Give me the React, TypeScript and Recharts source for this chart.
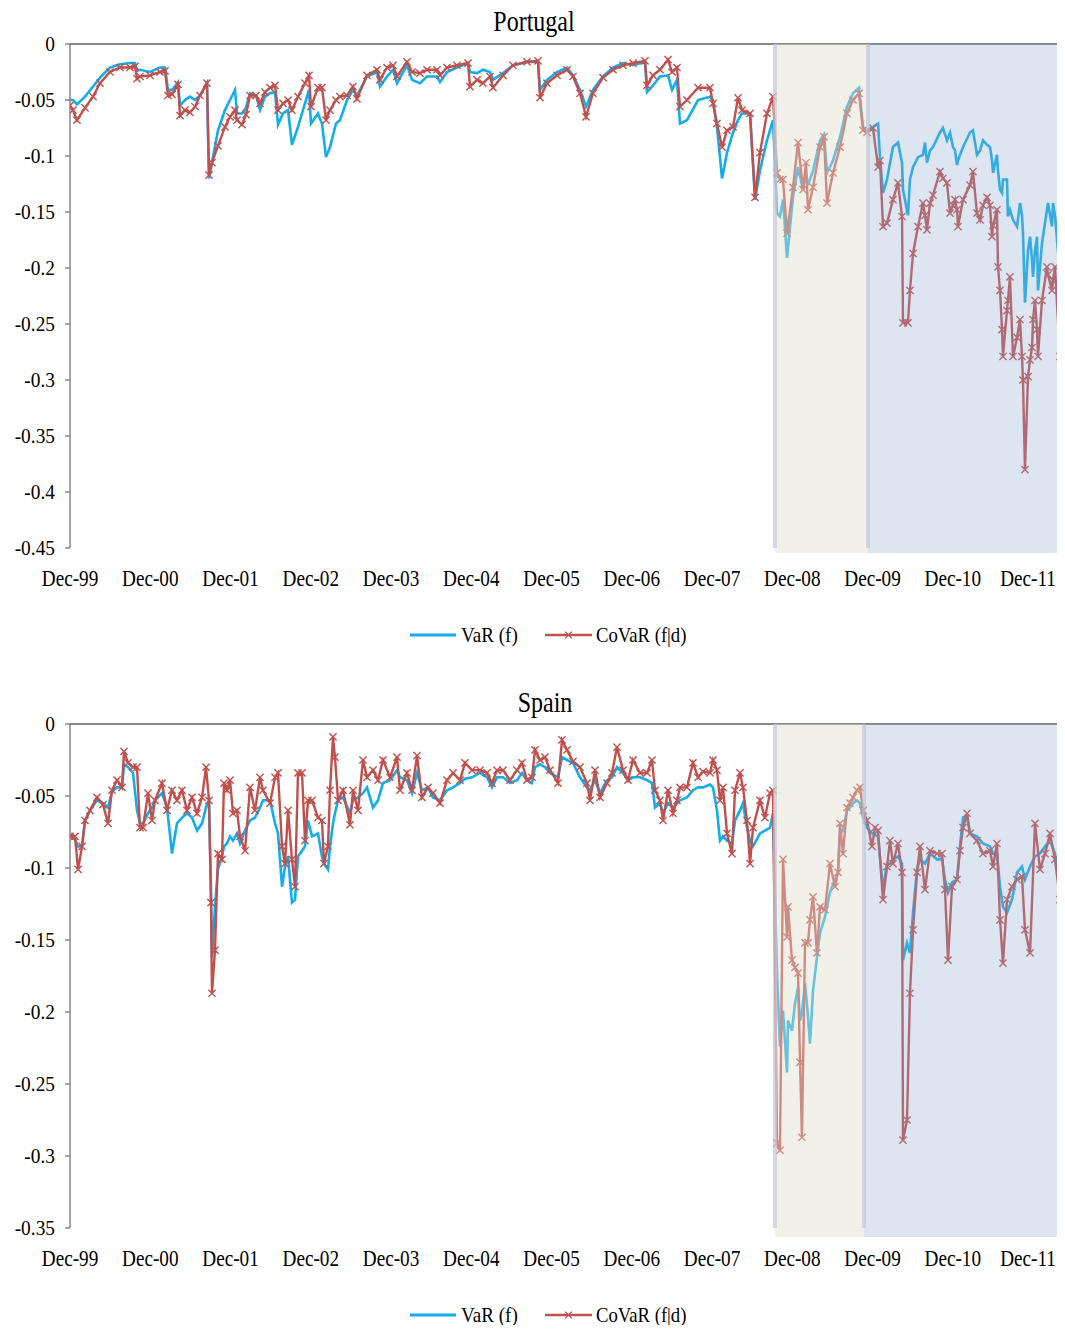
import React from 'react';
import { LineChart, Line, XAxis, YAxis, ReferenceArea, ReferenceLine } from 'recharts';

// Time axis: years elapsed since December 1999 (weekly observations, thinned)
const yearTicks = [0, 1, 2, 3, 4, 5, 6, 7, 8, 9, 10, 11, 12];
const yearLabels = ['Dec-99', 'Dec-00', 'Dec-01', 'Dec-02', 'Dec-03', 'Dec-04', 'Dec-05', 'Dec-06', 'Dec-07', 'Dec-08', 'Dec-09', 'Dec-10', 'Dec-11'];
const X_END = 12.81;

// ---------- Portugal ----------
const ptTime = [
  0, 0.037, 0.087, 0.187, 0.287, 0.374, 0.498, 0.623, 0.748, 0.81,
  0.835, 0.872, 0.997, 1.121, 1.184, 1.221, 1.271, 1.346, 1.371, 1.433,
  1.495, 1.558, 1.62, 1.707, 1.732, 1.769, 1.844, 1.931, 1.994, 2.056,
  2.081, 2.143, 2.193, 2.243, 2.318, 2.368, 2.43, 2.492, 2.555, 2.592,
  2.654, 2.717, 2.766, 2.841, 2.928, 2.978, 3.003, 3.09, 3.14, 3.19,
  3.24, 3.315, 3.364, 3.452, 3.526, 3.576, 3.701, 3.826, 3.863, 3.95,
  4.025, 4.075, 4.199, 4.262, 4.361, 4.449, 4.573, 4.611, 4.698, 4.822,
  4.96, 4.984, 5.072, 5.146, 5.234, 5.271, 5.396, 5.52, 5.695, 5.832,
  5.857, 5.944, 6.069, 6.193, 6.268, 6.355, 6.43, 6.517, 6.642, 6.766,
  6.891, 7.016, 7.165, 7.19, 7.265, 7.352, 7.452, 7.502, 7.564, 7.601,
  7.688, 7.826, 7.975, 8.012, 8.062, 8.125, 8.187, 8.262, 8.324, 8.374,
  8.474, 8.536, 8.598, 8.685, 8.76, 8.81, 8.847, 8.885, 8.935, 9.009,
  9.072, 9.134, 9.171, 9.196, 9.259, 9.346, 9.396, 9.433, 9.508, 9.595,
  9.682, 9.757, 9.832, 9.882, 9.931, 10.006, 10.069, 10.093, 10.131, 10.181,
  10.255, 10.318, 10.368, 10.38, 10.442, 10.467, 10.505, 10.567, 10.629, 10.654,
  10.679, 10.717, 10.754, 10.841, 10.878, 10.928, 10.966, 11.003, 11.028, 11.053,
  11.065, 11.128, 11.215, 11.252, 11.302, 11.34, 11.377, 11.427, 11.464, 11.489,
  11.502, 11.551, 11.564, 11.589, 11.614, 11.626, 11.676, 11.688, 11.713, 11.751,
  11.801, 11.838, 11.863, 11.875, 11.9, 11.938, 11.963, 11.988, 12.0, 12.025,
  12.05, 12.062, 12.112, 12.174, 12.187, 12.237, 12.249, 12.274, 12.336, 12.374,
  12.399,
];
const ptVaR = [
  -0.05, -0.05, -0.054, -0.047, -0.038, -0.03, -0.021, -0.018, -0.017, -0.017,
  -0.024, -0.023, -0.025, -0.021, -0.021, -0.041, -0.041, -0.034, -0.055, -0.05,
  -0.047, -0.05, -0.046, -0.035, -0.12, -0.106, -0.077, -0.059, -0.05, -0.041,
  -0.062, -0.062, -0.057, -0.044, -0.046, -0.059, -0.047, -0.044, -0.043, -0.072,
  -0.062, -0.059, -0.09, -0.074, -0.053, -0.041, -0.071, -0.062, -0.071, -0.101,
  -0.092, -0.071, -0.068, -0.05, -0.041, -0.046, -0.029, -0.025, -0.038, -0.029,
  -0.023, -0.035, -0.019, -0.032, -0.035, -0.029, -0.029, -0.034, -0.025, -0.021,
  -0.017, -0.025, -0.026, -0.023, -0.025, -0.032, -0.026, -0.019, -0.016, -0.016,
  -0.041, -0.032, -0.025, -0.021, -0.028, -0.041, -0.056, -0.041, -0.029, -0.021,
  -0.017, -0.019, -0.016, -0.043, -0.037, -0.029, -0.028, -0.041, -0.032, -0.071,
  -0.068, -0.05, -0.047, -0.05, -0.074, -0.12, -0.097, -0.079, -0.068, -0.062,
  -0.062, -0.139, -0.113, -0.086, -0.068, -0.151, -0.154, -0.139, -0.191, -0.137,
  -0.11, -0.13, -0.115, -0.126, -0.113, -0.086, -0.081, -0.115, -0.104, -0.083,
  -0.056, -0.044, -0.039, -0.074, -0.077, -0.074, -0.071, -0.101, -0.133, -0.121,
  -0.092, -0.088, -0.106, -0.13, -0.153, -0.121, -0.11, -0.101, -0.099, -0.088,
  -0.106, -0.095, -0.092, -0.079, -0.075, -0.086, -0.079, -0.092, -0.095, -0.108,
  -0.104, -0.092, -0.079, -0.077, -0.099, -0.095, -0.086, -0.09, -0.092, -0.104,
  -0.115, -0.099, -0.113, -0.13, -0.133, -0.121, -0.121, -0.154, -0.148, -0.157,
  -0.163, -0.142, -0.153, -0.169, -0.231, -0.184, -0.172, -0.193, -0.208, -0.184,
  -0.172, -0.22, -0.178, -0.148, -0.142, -0.163, -0.142, -0.153, -0.206, -0.184,
  -0.163,
];
const ptCoVaR = [
  -0.055, -0.059, -0.068, -0.057, -0.047, -0.035, -0.025, -0.021, -0.021, -0.02,
  -0.031, -0.029, -0.028, -0.025, -0.024, -0.046, -0.045, -0.036, -0.064, -0.059,
  -0.061, -0.056, -0.046, -0.035, -0.117, -0.106, -0.091, -0.074, -0.065, -0.059,
  -0.068, -0.072, -0.063, -0.046, -0.046, -0.053, -0.043, -0.039, -0.037, -0.059,
  -0.053, -0.05, -0.059, -0.047, -0.035, -0.028, -0.056, -0.039, -0.039, -0.068,
  -0.059, -0.05, -0.047, -0.046, -0.038, -0.049, -0.028, -0.023, -0.032, -0.021,
  -0.019, -0.029, -0.016, -0.025, -0.026, -0.023, -0.023, -0.028, -0.021, -0.019,
  -0.017, -0.038, -0.032, -0.035, -0.029, -0.039, -0.028, -0.019, -0.016, -0.015,
  -0.048, -0.035, -0.028, -0.023, -0.029, -0.044, -0.065, -0.044, -0.03, -0.023,
  -0.019, -0.017, -0.015, -0.037, -0.028, -0.023, -0.014, -0.025, -0.021, -0.056,
  -0.05, -0.039, -0.039, -0.053, -0.071, -0.092, -0.077, -0.074, -0.048, -0.059,
  -0.062, -0.137, -0.097, -0.062, -0.047, -0.115, -0.121, -0.121, -0.169, -0.128,
  -0.088, -0.13, -0.106, -0.148, -0.128, -0.092, -0.083, -0.142, -0.115, -0.092,
  -0.062, -0.05, -0.044, -0.077, -0.079, -0.075, -0.11, -0.104, -0.163, -0.16,
  -0.139, -0.124, -0.154, -0.249, -0.249, -0.22, -0.187, -0.163, -0.142, -0.153,
  -0.166, -0.142, -0.135, -0.114, -0.12, -0.124, -0.151, -0.144, -0.139, -0.148,
  -0.163, -0.139, -0.126, -0.114, -0.151, -0.157, -0.144, -0.137, -0.144, -0.172,
  -0.162, -0.148, -0.199, -0.22, -0.255, -0.279, -0.238, -0.229, -0.208, -0.279,
  -0.262, -0.246, -0.279, -0.3, -0.38, -0.297, -0.282, -0.271, -0.246, -0.229,
  -0.255, -0.279, -0.229, -0.199, -0.206, -0.22, -0.211, -0.199, -0.279, -0.264,
  -0.238,
];
const ptYTicks = [0, -0.05, -0.1, -0.15, -0.2, -0.25, -0.3, -0.35, -0.4, -0.45];
// Start of the crisis band and start of the sovereign-debt band
const ptPhases = [8.785, 9.944];

// ---------- Spain ----------
const esTime = [
  0, 0.062, 0.1, 0.15, 0.187, 0.249, 0.336, 0.411, 0.474, 0.523,
  0.586, 0.648, 0.673, 0.723, 0.785, 0.835, 0.872, 0.91, 0.972, 1.022,
  1.059, 1.146, 1.209, 1.271, 1.333, 1.396, 1.458, 1.52, 1.583, 1.645,
  1.695, 1.732, 1.757, 1.769, 1.807, 1.844, 1.894, 1.919, 1.956, 1.994,
  2.031, 2.081, 2.118, 2.181, 2.243, 2.305, 2.368, 2.405, 2.492, 2.555,
  2.592, 2.642, 2.679, 2.717, 2.766, 2.804, 2.841, 2.891, 2.928, 2.966,
  3.016, 3.09, 3.14, 3.165, 3.215, 3.24, 3.277, 3.302, 3.34, 3.402,
  3.489, 3.526, 3.589, 3.651, 3.701, 3.776, 3.838, 3.9, 3.988, 4.075,
  4.112, 4.199, 4.262, 4.324, 4.386, 4.461, 4.523, 4.611, 4.698, 4.773,
  4.86, 4.922, 5.009, 5.109, 5.196, 5.259, 5.321, 5.396, 5.483, 5.57,
  5.632, 5.695, 5.757, 5.794, 5.857, 5.919, 5.981, 6.081, 6.131, 6.193,
  6.268, 6.355, 6.442, 6.48, 6.542, 6.604, 6.692, 6.754, 6.816, 6.891,
  6.953, 7.016, 7.103, 7.19, 7.252, 7.29, 7.352, 7.39, 7.452, 7.514,
  7.564, 7.601, 7.688, 7.763, 7.826, 7.888, 7.975, 8.012, 8.062, 8.1,
  8.137, 8.187, 8.249, 8.287, 8.349, 8.386, 8.436, 8.474, 8.511, 8.598,
  8.66, 8.723, 8.76, 8.81, 8.847, 8.885, 8.935, 8.947, 8.997, 9.034,
  9.072, 9.097, 9.121, 9.159, 9.196, 9.221, 9.259, 9.308, 9.346, 9.408,
  9.47, 9.533, 9.57, 9.595, 9.632, 9.682, 9.72, 9.757, 9.807, 9.844,
  9.882, 9.931, 9.994, 10.031, 10.069, 10.131, 10.181, 10.218, 10.255, 10.318,
  10.368, 10.38, 10.43, 10.467, 10.505, 10.555, 10.592, 10.654, 10.717, 10.804,
  10.866, 10.903, 10.941, 10.991, 11.053, 11.09, 11.128, 11.178, 11.215, 11.302,
  11.377, 11.464, 11.502, 11.551, 11.589, 11.626, 11.676, 11.738, 11.801, 11.863,
  11.9, 11.963, 12.025, 12.087, 12.15, 12.212, 12.274, 12.336, 12.399,
];
const esVaR = [
  -0.078, -0.08, -0.085, -0.085, -0.067, -0.06, -0.053, -0.055, -0.058, -0.047,
  -0.044, -0.044, -0.028, -0.03, -0.034, -0.06, -0.069, -0.069, -0.062, -0.058,
  -0.053, -0.048, -0.058, -0.09, -0.069, -0.065, -0.062, -0.065, -0.074, -0.069,
  -0.058, -0.053, -0.115, -0.162, -0.127, -0.101, -0.092, -0.085, -0.083, -0.078,
  -0.081, -0.076, -0.083, -0.074, -0.067, -0.065, -0.058, -0.053, -0.053, -0.069,
  -0.076, -0.113, -0.099, -0.092, -0.124, -0.122, -0.092, -0.088, -0.085, -0.067,
  -0.078, -0.076, -0.092, -0.097, -0.101, -0.085, -0.069, -0.062, -0.053, -0.051,
  -0.062, -0.053, -0.051, -0.048, -0.044, -0.058, -0.053, -0.041, -0.039, -0.032,
  -0.037, -0.039, -0.048, -0.034, -0.046, -0.044, -0.051, -0.053, -0.046, -0.044,
  -0.041, -0.038, -0.037, -0.034, -0.037, -0.044, -0.037, -0.037, -0.041, -0.039,
  -0.034, -0.039, -0.041, -0.03, -0.028, -0.03, -0.034, -0.037, -0.023, -0.025,
  -0.027, -0.037, -0.044, -0.046, -0.039, -0.048, -0.039, -0.037, -0.03, -0.034,
  -0.039, -0.037, -0.037, -0.039, -0.041, -0.058, -0.055, -0.062, -0.055, -0.058,
  -0.055, -0.053, -0.051, -0.046, -0.044, -0.044, -0.042, -0.044, -0.06, -0.081,
  -0.078, -0.081, -0.083, -0.067, -0.06, -0.055, -0.072, -0.081, -0.085, -0.076,
  -0.074, -0.072, -0.062, -0.173, -0.224, -0.199, -0.242, -0.206, -0.213, -0.194,
  -0.183, -0.206, -0.201, -0.18, -0.203, -0.222, -0.185, -0.162, -0.145, -0.134,
  -0.117, -0.108, -0.103, -0.076, -0.074, -0.06, -0.058, -0.055, -0.053, -0.055,
  -0.065, -0.072, -0.076, -0.077, -0.078, -0.115, -0.097, -0.097, -0.094, -0.092,
  -0.097, -0.164, -0.152, -0.159, -0.131, -0.101, -0.094, -0.097, -0.09, -0.094,
  -0.094, -0.108, -0.117, -0.11, -0.108, -0.085, -0.065, -0.065, -0.076, -0.078,
  -0.083, -0.085, -0.09, -0.09, -0.113, -0.127, -0.131, -0.122, -0.103, -0.099,
  -0.108, -0.099, -0.092, -0.09, -0.085, -0.081, -0.09, -0.108, -0.11,
];
const esCoVaR = [
  -0.078, -0.078, -0.101, -0.085, -0.067, -0.06, -0.051, -0.056, -0.069, -0.046,
  -0.039, -0.044, -0.019, -0.027, -0.03, -0.03, -0.072, -0.072, -0.048, -0.067,
  -0.053, -0.041, -0.06, -0.046, -0.053, -0.046, -0.06, -0.051, -0.062, -0.051,
  -0.03, -0.053, -0.124, -0.187, -0.157, -0.09, -0.094, -0.041, -0.046, -0.039,
  -0.062, -0.06, -0.078, -0.088, -0.044, -0.06, -0.037, -0.046, -0.055, -0.037,
  -0.034, -0.085, -0.097, -0.06, -0.094, -0.113, -0.034, -0.034, -0.081, -0.053,
  -0.053, -0.065, -0.067, -0.097, -0.085, -0.046, -0.009, -0.023, -0.053, -0.046,
  -0.07, -0.046, -0.06, -0.025, -0.037, -0.032, -0.039, -0.025, -0.037, -0.023,
  -0.046, -0.034, -0.046, -0.022, -0.051, -0.044, -0.048, -0.055, -0.039, -0.034,
  -0.039, -0.027, -0.032, -0.032, -0.034, -0.041, -0.032, -0.032, -0.039, -0.032,
  -0.027, -0.039, -0.037, -0.018, -0.025, -0.023, -0.032, -0.041, -0.011, -0.018,
  -0.026, -0.03, -0.041, -0.053, -0.032, -0.051, -0.041, -0.034, -0.016, -0.032,
  -0.039, -0.025, -0.034, -0.034, -0.025, -0.046, -0.053, -0.067, -0.046, -0.062,
  -0.053, -0.044, -0.044, -0.027, -0.037, -0.033, -0.034, -0.025, -0.032, -0.053,
  -0.044, -0.076, -0.09, -0.046, -0.034, -0.044, -0.067, -0.097, -0.072, -0.053,
  -0.065, -0.048, -0.046, -0.291, -0.296, -0.094, -0.148, -0.127, -0.164, -0.169,
  -0.173, -0.235, -0.287, -0.152, -0.152, -0.136, -0.12, -0.159, -0.127, -0.129,
  -0.097, -0.113, -0.103, -0.069, -0.09, -0.058, -0.055, -0.051, -0.046, -0.044,
  -0.06, -0.067, -0.085, -0.072, -0.074, -0.122, -0.099, -0.081, -0.097, -0.083,
  -0.103, -0.289, -0.275, -0.187, -0.143, -0.103, -0.085, -0.115, -0.088, -0.09,
  -0.09, -0.115, -0.164, -0.113, -0.108, -0.088, -0.072, -0.062, -0.076, -0.081,
  -0.09, -0.088, -0.099, -0.083, -0.136, -0.166, -0.122, -0.113, -0.108, -0.106,
  -0.143, -0.159, -0.069, -0.101, -0.09, -0.076, -0.094, -0.122, -0.129,
];
const esYTicks = [0, -0.05, -0.1, -0.15, -0.2, -0.25, -0.3, -0.35];
const esPhases = [8.785, 9.894];

// ---------- styling ----------
const SERIF = "'Liberation Serif', 'Times New Roman', Times, serif";
const VAR_COLOR = '#12ADEB';
const COVAR_COLOR = '#C0504D';
const AXIS_COLOR = '#878787';
const PLOT_TOP = 36;
const PLOT_H = 504;
const CHART_W = 1090;
const OVERLAY_PAD = 12;
// keep the last date label inside the visible page width
const LABEL_MAX_X = 1020;

type TickProps = { x: number; y: number; payload: { value: number } };

const XTickLabel = ({ x, y, payload }: TickProps) => (
  <text
    transform={`translate(${Math.min(x, LABEL_MAX_X)},${y + 38}) scale(0.8,1)`}
    textAnchor="middle"
    fontSize={24}
    fontFamily={SERIF}
    fill="#000"
  >
    {yearLabels[Math.round(payload.value)]}
  </text>
);

const YTickLabel = ({ x, y, payload }: TickProps) => (
  <text
    transform={`translate(${x},${y + 7}) scale(0.88,1)`}
    textAnchor="end"
    fontSize={22}
    fontFamily={SERIF}
    fill="#000"
  >
    {String(payload.value)}
  </text>
);

const crossPath = (cx: number, cy: number, r: number) =>
  `M${cx - r},${cy - r}L${cx + r},${cy + r}M${cx + r},${cy - r}L${cx - r},${cy + r}`;

const CrossDot = (props: any) => {
  const { cx, cy, index } = props;
  if (cx == null || cy == null) return <g key={`c-${index}`} />;
  return (
    <path
      key={`c-${index}`}
      d={crossPath(cx, cy, 3.6)}
      stroke={COVAR_COLOR}
      strokeWidth={1.4}
      fill="none"
    />
  );
};

type PanelProps = {
  title: string;
  titleX: number;
  titleY: number;
  time: number[];
  vaR: number[];
  coVaR: number[];
  yTicks: number[];
  yMin: number;
  bandBottom: number;
  phases: number[];
  height: number;
};

function Panel({ title, titleX, titleY, time, vaR, coVaR, yTicks, yMin, bandBottom, phases, height }: PanelProps) {
  const rows = time.map((t, i) => ({ t, var: vaR[i], covar: coVaR[i] }));
  const bottomAxisH = 60;
  const marginBottom = height - PLOT_TOP - PLOT_H - bottomAxisH;
  const legendY = PLOT_TOP + PLOT_H + 87 + OVERLAY_PAD;

  return (
    <div style={{ position: 'relative', width: CHART_W, height }}>
      <LineChart
        width={CHART_W}
        height={height}
        data={rows}
        margin={{ top: PLOT_TOP, right: 0, bottom: marginBottom, left: 0 }}
      >
        <XAxis
          xAxisId="top"
          dataKey="t"
          type="number"
          domain={[0, X_END]}
          allowDataOverflow
          ticks={yearTicks}
          interval={0}
          orientation="top"
          mirror
          tick={false}
          tickSize={5}
          axisLine={{ stroke: AXIS_COLOR, strokeWidth: 2 }}
          tickLine={{ stroke: AXIS_COLOR, strokeWidth: 1.5 }}
        />
        <XAxis
          xAxisId="bottom"
          dataKey="t"
          type="number"
          domain={[0, X_END]}
          allowDataOverflow
          ticks={yearTicks}
          interval={0}
          orientation="bottom"
          height={bottomAxisH}
          axisLine={false}
          tickLine={false}
          tickSize={0}
          tickMargin={0}
          tick={(p: any) => <XTickLabel {...p} />}
        />
        <YAxis
          yAxisId="v"
          type="number"
          domain={[yMin, 0]}
          allowDataOverflow
          ticks={yTicks}
          interval={0}
          width={62}
          tickSize={5}
          tickMargin={10}
          axisLine={{ stroke: AXIS_COLOR, strokeWidth: 1.5 }}
          tickLine={{ stroke: AXIS_COLOR, strokeWidth: 1.5 }}
          tick={(p: any) => <YTickLabel {...p} />}
        />
        <Line
          xAxisId="top"
          yAxisId="v"
          dataKey="var"
          type="linear"
          stroke={VAR_COLOR}
          strokeWidth={2.6}
          dot={false}
          activeDot={false}
          isAnimationActive={false}
        />
        <Line
          xAxisId="top"
          yAxisId="v"
          dataKey="covar"
          type="linear"
          stroke={COVAR_COLOR}
          strokeWidth={2.4}
          dot={CrossDot}
          activeDot={false}
          isAnimationActive={false}
        />
        <ReferenceArea
          xAxisId="top"
          yAxisId="v"
          x1={phases[0]}
          x2={phases[1]}
          y1={bandBottom}
          y2={0}
          ifOverflow="visible"
          fill="#E0DDCA"
          fillOpacity={0.42}
          stroke="none"
          zIndex={700}
        />
        <ReferenceArea
          xAxisId="top"
          yAxisId="v"
          x1={phases[1]}
          x2={X_END}
          y1={bandBottom}
          y2={0}
          ifOverflow="visible"
          fill="#8AA8CD"
          fillOpacity={0.3}
          stroke="none"
          zIndex={700}
        />
        <ReferenceLine
          xAxisId="top"
          yAxisId="v"
          x={phases[0]}
          stroke="#C9C6D6"
          strokeOpacity={0.7}
          strokeWidth={4}
          ifOverflow="visible"
          zIndex={710}
        />
        <ReferenceLine
          xAxisId="top"
          yAxisId="v"
          x={phases[1]}
          stroke="#BCC2D0"
          strokeOpacity={0.6}
          strokeWidth={4}
          ifOverflow="visible"
          zIndex={710}
        />
      </LineChart>
      <svg
        width={1000}
        height={height + OVERLAY_PAD}
        style={{ position: 'absolute', left: 0, top: -OVERLAY_PAD, pointerEvents: 'none', overflow: 'visible' }}
      >
        <text
          transform={`translate(${titleX},${titleY + OVERLAY_PAD}) scale(0.8,1)`}
          textAnchor="middle"
          fontSize={30}
          fontFamily={SERIF}
          fill="#000"
        >
          {title}
        </text>
        <g transform={`translate(0,${legendY})`}>
          <line x1={402} x2={448} y1={0} y2={0} stroke={VAR_COLOR} strokeWidth={3} />
          <text transform="translate(453,7) scale(0.87,1)" fontSize={22} fontFamily={SERIF} fill="#000">
            VaR (f)
          </text>
          <line x1={537} x2={584} y1={0} y2={0} stroke={COVAR_COLOR} strokeWidth={2.6} />
          <path d={crossPath(560.5, 0, 3.4)} stroke={COVAR_COLOR} strokeWidth={1.3} fill="none" />
          <text transform="translate(588,7) scale(0.85,1)" fontSize={22} fontFamily={SERIF} fill="#000">
            CoVaR (f|d)
          </text>
        </g>
      </svg>
    </div>
  );
}

export default function App() {
  return (
    <div style={{ position: 'relative', width: CHART_W }}>
      <style>{'html, body { overflow: hidden; }'}</style>
      <Panel
        title="Portugal"
        titleX={526}
        titleY={23}
        time={ptTime}
        vaR={ptVaR}
        coVaR={ptCoVaR}
        yTicks={ptYTicks}
        yMin={-0.45}
        bandBottom={-0.4545}
        phases={ptPhases}
        height={680}
      />
      <Panel
        title="Spain"
        titleX={537}
        titleY={24}
        time={esTime}
        vaR={esVaR}
        coVaR={esCoVaR}
        yTicks={esYTicks}
        yMin={-0.35}
        bandBottom={-0.3563}
        phases={esPhases}
        height={637}
      />
    </div>
  );
}
